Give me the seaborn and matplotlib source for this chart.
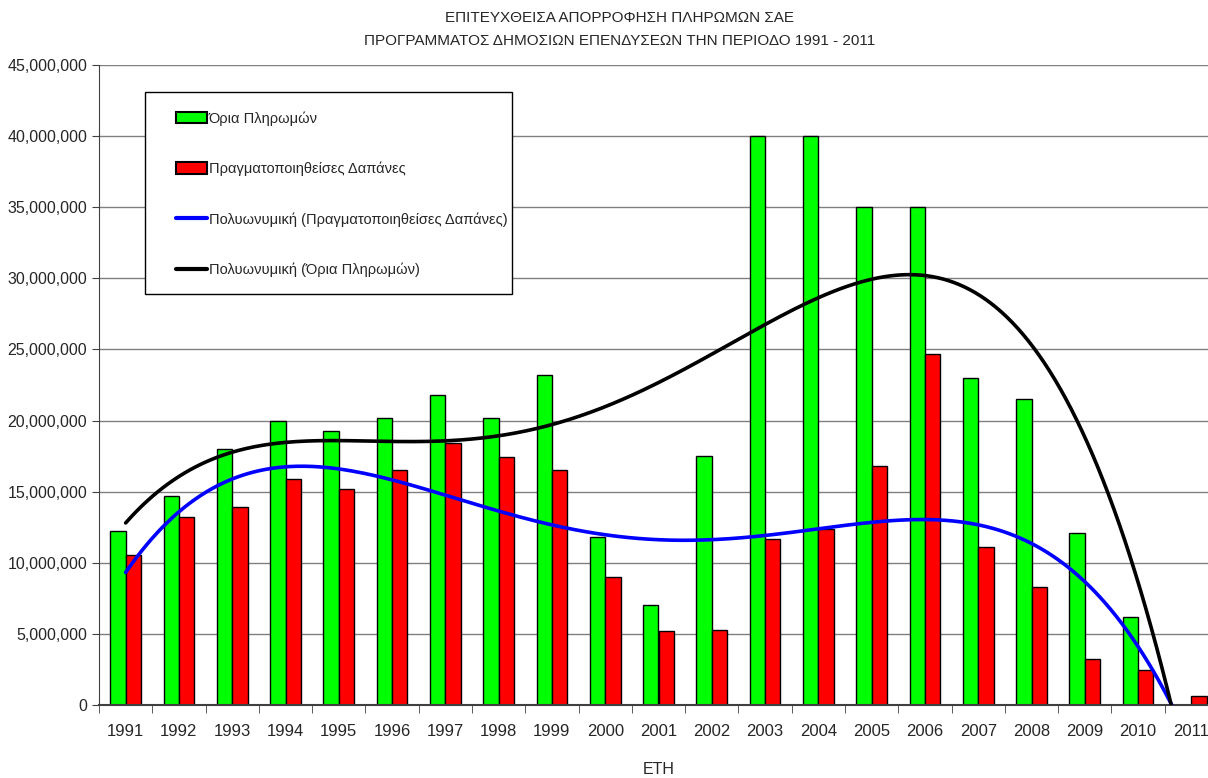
import numpy as np
import pandas as pd
import seaborn as sns
import matplotlib.pyplot as plt
from matplotlib.patches import Patch, Rectangle
from matplotlib.lines import Line2D
from matplotlib.ticker import FuncFormatter

# Δεδομένα
years = [str(y) for y in range(1991, 2012)]
oria = [12.25, 14.7, 18.0, 20.0, 19.3, 20.2, 21.8, 20.2, 23.2, 11.8, 7.0,
        17.5, 40.0, 40.0, 35.0, 35.0, 23.0, 21.5, 12.1, 6.2, 0.0]
dapanes = [10.55, 13.2, 13.9, 15.9, 15.2, 16.5, 18.4, 17.45, 16.5, 9.0, 5.2,
           5.3, 11.7, 12.4, 16.8, 24.7, 11.1, 8.3, 3.2, 2.44, 0.6]
label_oria = 'Όρια Πληρωμών'
label_dap = 'Πραγματοποιηθείσες Δαπάνες'

df = pd.DataFrame({'year': years * 2,
                   'value': np.array(oria + dapanes) * 1e6,
                   'series': [label_oria] * 21 + [label_dap] * 21})

sns.set_style('white')
plt.rcParams['font.family'] = ['Liberation Sans', 'DejaVu Sans']

fig = plt.figure(figsize=(12.08, 7.78), dpi=100)
ax = fig.add_axes([99 / 1208, 1 - 705 / 778, 1119 / 1208, 640 / 778])

sns.barplot(data=df, x='year', y='value', hue='series',
            palette=['#00ff00', '#ff0000'], width=0.574,
            edgecolor='black', linewidth=1, saturation=1, ax=ax,
            legend=False, zorder=2)

# Πολυωνυμικές γραμμές τάσης (4ου βαθμού)
xpos = np.arange(len(years))
xs = np.linspace(0, len(years) - 1, 400)
fit_oria = np.polyval(np.polyfit(xpos, np.array(oria) * 1e6, 4), xs)
fit_dap = np.polyval(np.polyfit(xpos, np.array(dapanes) * 1e6, 4), xs)
ax.plot(xs, fit_dap, color='#0000ff', lw=2.6, zorder=4)
ax.plot(xs, fit_oria, color='black', lw=2.6, zorder=4)

ax.set_xlim(-0.5, len(years) - 0.5)
ax.set_ylim(0, 45e6)
ax.set_yticks(np.arange(0, 45e6 + 1, 5e6))
ax.yaxis.set_major_formatter(FuncFormatter(lambda v, p: f'{int(v):,}'))
ax.yaxis.grid(True, color='#808080', lw=1)
ax.set_axisbelow(True)
ax.set_xticks(np.arange(-0.5, len(years), 1), minor=True)
ax.tick_params(axis='x', which='major', length=0, pad=14, labelsize=12)
ax.tick_params(axis='x', which='minor', length=6, color='#404040', direction='out', bottom=True)
ax.tick_params(axis='y', length=5, color='#404040', direction='out', left=True, labelsize=11.5)
for s in ['top', 'right']:
    ax.spines[s].set_visible(False)
ax.spines['left'].set_color('#404040')
ax.spines['bottom'].set_color('#404040')
ax.spines['bottom'].set_linewidth(1.5)

ax.set_xlabel('ΕΤΗ', fontsize=11.5, labelpad=16)
ax.set_ylabel('')

fig.text(0.513, 1 - 18 / 778, 'ΕΠΙΤΕΥΧΘΕΙΣΑ ΑΠΟΡΡΟΦΗΣΗ ΠΛΗΡΩΜΩΝ ΣΑΕ',
         ha='center', va='center', fontsize=11)
fig.text(0.513, 1 - 41 / 778, 'ΠΡΟΓΡΑΜΜΑΤΟΣ ΔΗΜΟΣΙΩΝ ΕΠΕΝΔΥΣΕΩΝ ΤΗΝ ΠΕΡΙΟΔΟ 1991 - 2011',
         ha='center', va='center', fontsize=11)

# Υπόμνημα: πλαίσιο σχεδιασμένο χωριστά
fig.add_artist(Rectangle((145 / 1208, 1 - 294 / 778), 367 / 1208, 202 / 778,
                         transform=fig.transFigure, facecolor='white',
                         edgecolor='black', lw=1, zorder=5))
handles = [Patch(facecolor='#00ff00', edgecolor='black', lw=1.5),
           Patch(facecolor='#ff0000', edgecolor='black', lw=1.5),
           Line2D([], [], color='#0000ff', lw=3),
           Line2D([], [], color='black', lw=3)]
labels = [label_oria, label_dap,
          'Πολυωνυμική (Πραγματοποιηθείσες Δαπάνες)',
          'Πολυωνυμική (Όρια Πληρωμών)']
leg = fig.legend(handles, labels, loc='upper left',
                 bbox_to_anchor=(176 / 1208, 1 - 111 / 778),
                 fontsize=10.5, frameon=False,
                 labelspacing=2.47, handlelength=2.1, handleheight=0.8,
                 handletextpad=0.15, borderpad=0, borderaxespad=0)
leg.set_zorder(6)

fig.savefig('out.png', dpi=100)
